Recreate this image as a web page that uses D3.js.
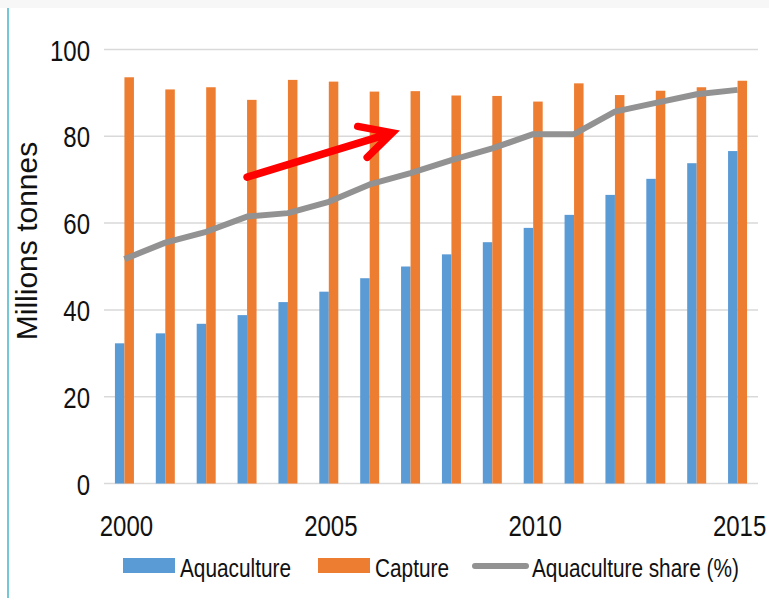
<!DOCTYPE html>
<html>
<head>
<meta charset="utf-8">
<script src="https://cdn.jsdelivr.net/npm/d3@7"></script>
<style>
  html, body { margin: 0; padding: 0; background: #fff; }
  svg { display: block; }
  .narrow { font-family: "Liberation Sans", Arial, sans-serif; fill: #111; }
</style>
</head>
<body>
<div id="chart"></div>
<script>
// data
var years = [2000, 2001, 2002, 2003, 2004, 2005, 2006, 2007, 2008, 2009, 2010, 2011, 2012, 2013, 2014, 2015]
var aquaculture = [32.3, 34.6, 36.8, 38.8, 41.8, 44.2, 47.3, 50.0, 52.8, 55.6, 58.9, 61.9, 66.5, 70.2, 73.8, 76.6]
var capture = [93.6, 90.8, 91.3, 88.4, 93.0, 92.6, 90.3, 90.4, 89.4, 89.3, 88.0, 92.2, 89.5, 90.5, 91.3, 92.8]
var share = [51.7, 55.5, 58.0, 61.5, 62.3, 64.9, 68.9, 71.5, 74.5, 77.2, 80.5, 80.5, 85.7, 87.7, 89.7, 90.7]
var yTicks = [0, 20, 40, 60, 80, 100]
var xTickLabels = [2000, 2005, 2010, 2015]
var seriesNames = ['Aquaculture', 'Capture', 'Aquaculture share (%)']
// red trend arrow, in data units (year position, value)
var arrowFrom = [2003, 70.6]
var arrowTo = [2006.55, 80.8]

var width = 769, height = 598
var margin = { top: 49.5, right: 11, bottom: 114.5, left: 104 }
var squeeze = 0.8   // the reference font is a condensed one

var svg = d3.select('#chart').append('svg')
  .attr('width', width)
  .attr('height', height)

// light top strip and the cyan left rule
svg.append('rect').attr('x', 0).attr('y', 0).attr('width', width).attr('height', 8).attr('fill', '#f7f7f7')
svg.append('line').attr('x1', 8).attr('x2', 8).attr('y1', 8).attr('y2', height)
  .attr('stroke', '#74c8d6').attr('stroke-width', 2)

var x = d3.scaleBand()
  .domain(years)
  .range([margin.left, width - margin.right])

var y = d3.scaleLinear()
  .domain([0, 100])
  .range([height - margin.bottom, margin.top])

var barW = 9.5

function place(px, py) {
  return 'translate(' + px + ',' + py + ') scale(' + squeeze + ',1)'
}

// gridlines
svg.append('g').selectAll('line')
  .data(yTicks)
  .enter().append('line')
  .attr('x1', margin.left).attr('x2', width - margin.right)
  .attr('y1', d => y(d)).attr('y2', d => y(d))
  .attr('stroke', '#d9d9d9').attr('stroke-width', 1.5)

// y tick labels
svg.append('g').selectAll('text')
  .data(yTicks)
  .enter().append('text')
  .attr('class', 'narrow')
  .attr('transform', d => place(90, y(d) + 11))
  .attr('text-anchor', 'end')
  .attr('font-size', 30)
  .text(d => d)

// x tick labels
svg.append('g').selectAll('text')
  .data(xTickLabels)
  .enter().append('text')
  .attr('class', 'narrow')
  .attr('transform', d => place(x(d) + x.bandwidth() / 2 + 2, 536))
  .attr('text-anchor', 'middle')
  .attr('font-size', 30)
  .text(d => d)

// y axis title
svg.append('text')
  .attr('transform', 'translate(37,241) rotate(-90)')
  .attr('text-anchor', 'middle')
  .attr('font-family', '"Liberation Sans", Arial, sans-serif')
  .attr('font-size', 30)
  .attr('fill', '#111')
  .text('Millions tonnes')

// bars
svg.append('g').selectAll('rect')
  .data(years)
  .enter().append('rect')
  .attr('x', (d, i) => x(d) + x.bandwidth() / 2 - barW)
  .attr('width', barW)
  .attr('y', (d, i) => y(aquaculture[i]))
  .attr('height', (d, i) => y(0) - y(aquaculture[i]))
  .attr('fill', '#5b9bd5')

svg.append('g').selectAll('rect')
  .data(years)
  .enter().append('rect')
  .attr('x', (d, i) => x(d) + x.bandwidth() / 2)
  .attr('width', barW)
  .attr('y', (d, i) => y(capture[i]))
  .attr('height', (d, i) => y(0) - y(capture[i]))
  .attr('fill', '#ed7d31')

// share line
var line = d3.line()
  .x((d, i) => x(years[i]) + x.bandwidth() / 2)
  .y(d => y(d))

svg.append('path')
  .datum(share)
  .attr('d', line)
  .attr('fill', 'none')
  .attr('stroke', '#929292')
  .attr('stroke-width', 6)
  .attr('stroke-linejoin', 'round')

// red arrow
var xPos = v => x(years[0]) + x.bandwidth() / 2 + (v - years[0]) * x.step()
var ax0 = xPos(arrowFrom[0]), ay0 = y(arrowFrom[1])
var ax1 = xPos(arrowTo[0]), ay1 = y(arrowTo[1])
var ang = Math.atan2(ay1 - ay0, ax1 - ax0)
var headLen = 35, headAng = 0.48
var arrow = d3.path()
arrow.moveTo(ax0, ay0)
arrow.lineTo(ax1 - 3 * Math.cos(ang), ay1 - 3 * Math.sin(ang))
arrow.moveTo(ax1 - headLen * Math.cos(ang - headAng), ay1 - headLen * Math.sin(ang - headAng))
arrow.lineTo(ax1, ay1)
arrow.lineTo(ax1 - headLen * Math.cos(ang + headAng), ay1 - headLen * Math.sin(ang + headAng))
svg.append('path')
  .attr('d', arrow.toString())
  .attr('fill', 'none')
  .attr('stroke', '#ff0000')
  .attr('stroke-width', 7.5)
  .attr('stroke-linecap', 'round')
  .attr('stroke-linejoin', 'miter')

// legend
var legend = svg.append('g')
var legX = [123, 318, 473]
var legColors = ['#5b9bd5', '#ed7d31', '#929292']
legend.selectAll('rect')
  .data(seriesNames.slice(0, 2))
  .enter().append('rect')
  .attr('x', (d, i) => legX[i])
  .attr('y', 558)
  .attr('width', 52)
  .attr('height', 15)
  .attr('fill', (d, i) => legColors[i])
legend.append('line')
  .attr('x1', legX[2] + 2).attr('x2', legX[2] + 53)
  .attr('y1', 566).attr('y2', 566)
  .attr('stroke', legColors[2]).attr('stroke-width', 6)
  .attr('stroke-linecap', 'round')
legend.selectAll('text')
  .data(seriesNames)
  .enter().append('text')
  .attr('class', 'narrow')
  .attr('transform', (d, i) => place(legX[i] + (i == 2 ? 59 : 57), 577))
  .attr('font-size', 26)
  .text(d => d)
</script>
</body>
</html>
